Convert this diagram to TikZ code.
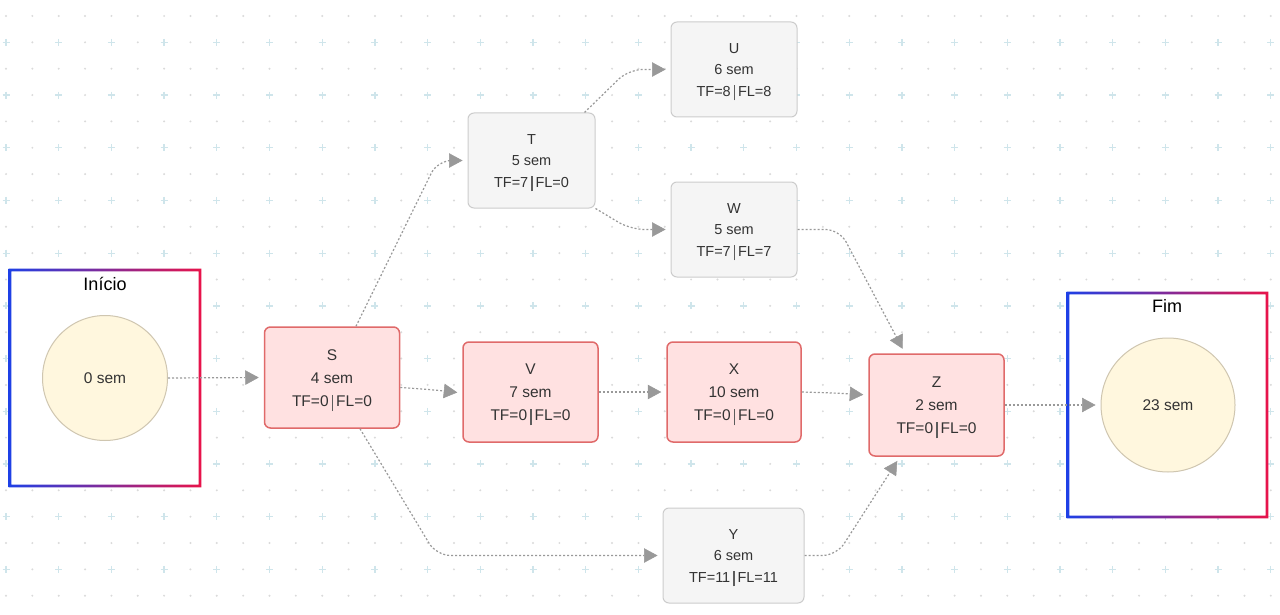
\documentclass[tikz,border=0pt]{standalone}
\usepackage{fontspec}
\setmainfont{Liberation Sans}
\usetikzlibrary{arrows.meta,calc}
\definecolor{edgec}{HTML}{999999}
\definecolor{headc}{HTML}{999999}
\definecolor{redfill}{HTML}{FFE1E1}
\definecolor{redline}{HTML}{E06A6A}
\definecolor{grayfill}{HTML}{F5F5F5}
\definecolor{grayline}{HTML}{CCCCCC}
\definecolor{txt}{HTML}{333333}
\definecolor{circfill}{HTML}{FFF7DE}
\definecolor{circline}{HTML}{CFC6B0}
\definecolor{gblue}{HTML}{1E40E6}
\definecolor{gred}{HTML}{E8134A}
\definecolor{plusc}{HTML}{CFE5EB}
\definecolor{dotc}{HTML}{DADADA}
\newcommand{\sepbar}{\hspace{0.2em}\textcolor{txt!80}{\rule[-0.3em]{1.4pt}{1.05em}}\hspace{0.2em}}
\tikzset{
  redbox/.style={draw=redline, fill=redfill, line width=1.5pt, rounded corners=6pt,
    minimum width=135pt, minimum height=101pt, inner sep=0pt},
  graybox/.style={draw=grayline, fill=grayfill, line width=1pt, rounded corners=6pt,
    minimum width=127pt, minimum height=95pt, inner sep=0pt},
  redtxt/.style={align=center, text=txt, font=\fontsize{15.5}{23}\selectfont, inner sep=0pt},
  graytxt/.style={align=center, text=txt, font=\fontsize{14.5}{21.5}\selectfont, inner sep=0pt},
  evcirc/.style={circle, draw=circline, fill=circfill, line width=1pt, inner sep=0pt,
    text=txt, font=\fontsize{15.5}{18}\selectfont},
  ftitle/.style={text=black, font=\fontsize{18}{20}\selectfont, inner sep=0pt},
  edge/.style={draw=edgec, line width=1.2pt, dash pattern=on 2pt off 2pt,
    rounded corners=14pt, -{Triangle[length=13.5pt,width=14.5pt,fill=headc,line width=0.5pt]},
    shorten >=5pt},
  plusmark/.style={draw=plusc, line width=1.3pt},
}
\begin{document}
\begin{tikzpicture}[x=1pt,y=-1pt]
\useasboundingbox (0,0) rectangle (1280,615);
\fill[white] (0,0) rectangle (1280,615);
% background grid
\foreach \j in {0,...,22}{
  \foreach \k in {0,...,48}{
    \pgfmathsetmacro\gx{6+26.35*\k}
    \pgfmathsetmacro\gy{16+26.35*\j}
    \pgfmathtruncatemacro\isplus{(mod(\j,2)==1)*(mod(\k,2)==0)}
    \ifnum\isplus=1
      \draw[plusmark] (\gx-3.5,\gy) -- (\gx+3.5,\gy) (\gx,\gy-3.5) -- (\gx,\gy+3.5);
    \else
      \fill[dotc] (\gx,\gy) circle (1.1pt);
    \fi
  }
}
% frames
\fill[white] (10,270) rectangle (200,486);
\path[left color=gblue, right color=gred, even odd rule]
  (8.7,268.7) rectangle (201.3,487.3) (11.3,271.3) rectangle (198.7,484.7);
\fill[white] (1068,293) rectangle (1267,517);
\path[left color=gblue, right color=gred, even odd rule]
  (1066.7,291.7) rectangle (1268.3,518.3) (1069.3,294.3) rectangle (1265.7,515.7);
\node[ftitle] (t0) at (105,284) {Início};
\node[ftitle] (t1) at (1167,306) {Fim};
% events
\node[evcirc, minimum size=125pt] (c0) at (105,378) {0 sem};
\node[evcirc, minimum size=134pt] (c1) at (1168,405) {23 sem};
% tasks
\node[redbox] (S) at (332,377.5) {};
\node[redbox, minimum height=100pt] (V) at (530.5,392) {};
\node[redbox, minimum height=100pt, minimum width=134pt] (X) at (734,392) {};
\node[redbox, minimum height=102pt] (Z) at (936.5,405) {};
\node[graybox] (T) at (531.5,160.5) {};
\node[graybox, minimum width=126pt] (U) at (734,69.5) {};
\node[graybox, minimum width=126pt] (W) at (734,229.5) {};
\node[graybox, minimum width=141pt] (Y) at (733.5,555.5) {};
\node[redtxt] (St) at ($(S.center)+(0,2.8)$) {S\\4 sem\\TF=0\sepbar FL=0};
\node[redtxt] (Vt) at ($(V.center)+(0,2.8)$) {V\\7 sem\\TF=0\sepbar FL=0};
\node[redtxt] (Xt) at ($(X.center)+(0,2.8)$) {X\\10 sem\\TF=0\sepbar FL=0};
\node[redtxt] (Zt) at ($(Z.center)+(0,2.8)$) {Z\\2 sem\\TF=0\sepbar FL=0};
\node[graytxt] (Tt) at ($(T.center)+(0,2.2)$) {T\\5 sem\\TF=7\sepbar FL=0};
\node[graytxt] (Ut) at ($(U.center)+(0,2.2)$) {U\\6 sem\\TF=8\sepbar FL=8};
\node[graytxt] (Wt) at ($(W.center)+(0,2.2)$) {W\\5 sem\\TF=7\sepbar FL=7};
\node[graytxt] (Yt) at ($(Y.center)+(0,2.2)$) {Y\\6 sem\\TF=11\sepbar FL=11};
% connectors
\draw[edge] (c0.east) -- (S.west);
\draw[edge] ($(S.north)+(24,0)$) -- ($(T.west)+(-30,0)$) -- (T.west);
\draw[edge] ($(S.east)+(0,10)$) -- ($(S.east)+(30,12)$) -- ($(V.west)+(0,1)$);
\draw[edge] ($(S.south)+(28,0)$) -- ($(Y.west)+(-226,0)$) -- (Y.west);
\draw[edge] ($(T.north east)+(-11,0)$) -- ($(U.west)+(-42,0)$) -- (U.west);
\draw[edge] (T.south east) -- ($(W.west)+(-40,0)$) -- (W.west);
\draw[edge] (V.east) -- (X.west);
\draw[edge] (X.east) -- ($(X.east)+(33,1)$) -- ($(Z.west)+(0,-10)$);
\draw[edge] (W.east) -- ($(W.east)+(42,0)$) -- ($(Z.north)+(-31.5,0)$);
\draw[edge] (Y.east) -- ($(Y.east)+(32,0)$) -- ($(Z.south)+(-36.5,0)$);
\draw[edge] (Z.east) -- (c1.west);
\end{tikzpicture}
\end{document}
